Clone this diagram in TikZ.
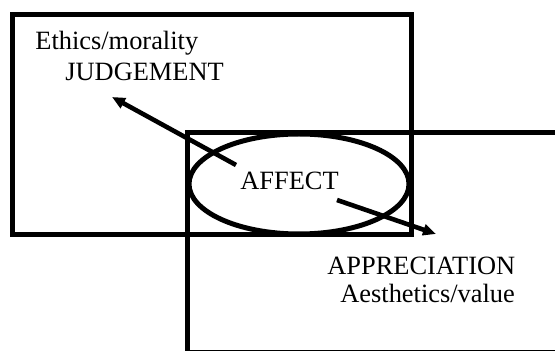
\documentclass[tikz,border=0pt]{standalone}
\usepackage{fontspec}
\setmainfont{Liberation Serif}
\usetikzlibrary{arrows.meta}
\begin{document}
\begin{tikzpicture}[
    x=0.5pt, y=-0.5pt,
    frame/.style={draw, line width=2.5pt},
    lens/.style={draw, line width=2.5pt},
    pointer/.style={draw, line width=2.3pt, -{Triangle[length=6.5pt, width=5.5pt]}},
    label/.style={inner sep=0pt, anchor=base west, font=\fontsize{13.2}{15.8}\selectfont}
]
    \clip (0,0) rectangle (555,351);
    % judgement and appreciation areas
    \draw[frame] (12.5,14.5) rectangle (411,234.5);
    \draw[frame] (187.5,132.5) rectangle (565,352.8);
    \draw[lens] (299,184) ellipse [x radius=110, y radius=50];
    % texts
    \node[label] (ethics) at (35,50) {Ethics/morality};
    \node[label] (judgement) at (65,81) {JUDGEMENT};
    \node[label] (affect) at (240,190) {AFFECT};
    \node[label] (appreciation) at (327,275) {APPRECIATION};
    \node[label] (aesthetics) at (340,303) {Aesthetics/value};
    % arrows out of affect
    \coordinate (fromaffect1) at (236,165);
    \coordinate (tojudge) at (112,97);
    \coordinate (fromaffect2) at (337,200);
    \coordinate (toapprec) at (436,234);
    \draw[pointer] (fromaffect1) -- (tojudge);
    \draw[pointer] (fromaffect2) -- (toapprec);
\end{tikzpicture}
\end{document}
